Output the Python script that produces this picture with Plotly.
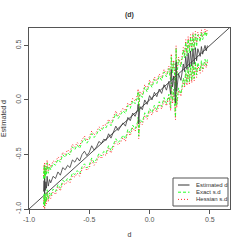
import plotly.graph_objects as go

# true d values (x)
d_true = [-0.88,-0.875,-0.87,-0.87,-0.865,-0.86,-0.855,-0.85,-0.84,-0.83,
          -0.82,-0.80,-0.78,-0.76,-0.74,-0.72,-0.70,-0.68,-0.66,-0.64,
          -0.62,-0.60,-0.58,-0.56,-0.54,-0.52,-0.50,-0.48,-0.46,-0.44,
          -0.42,-0.40,-0.38,-0.36,-0.34,-0.32,-0.30,-0.28,-0.26,-0.24,
          -0.22,-0.20,-0.18,-0.16,-0.14,-0.12,-0.10,-0.095,-0.09,-0.08,
          -0.06,-0.04,-0.02,0.00,0.02,0.04,0.06,0.08,0.10,0.12,
          0.14,0.16,0.175,0.18,0.19,0.20,0.215,0.22,0.225,0.24,
          0.26,0.28,0.29,0.30,0.31,0.32,0.33,0.34,0.35,0.36,
          0.37,0.38,0.39,0.40,0.42,0.43,0.44,0.46,0.47,0.48]

# estimated d
d_est = [-0.84,-0.74,-0.86,-0.72,-0.83,-0.75,-0.81,-0.70,-0.79,-0.73,
         -0.76,-0.70,-0.72,-0.66,-0.69,-0.62,-0.64,-0.60,-0.62,-0.55,
         -0.57,-0.53,-0.56,-0.50,-0.47,-0.51,-0.48,-0.42,-0.46,-0.43,
         -0.38,-0.40,-0.36,-0.37,-0.31,-0.35,-0.30,-0.24,-0.28,-0.25,
         -0.21,-0.24,-0.16,-0.19,-0.12,-0.15,-0.09,-0.04,-0.22,-0.06,
         -0.09,0.00,-0.04,0.04,0.00,0.07,0.03,0.10,0.06,0.14,
         0.09,0.17,0.05,0.28,0.12,0.22,-0.03,0.35,0.08,0.24,
         0.18,0.33,0.26,0.40,0.28,0.43,0.30,0.45,0.31,0.47,
         0.33,0.48,0.36,0.47,0.40,0.49,0.42,0.50,0.45,0.50]

# standard deviations
exact_sd = [0.060,0.062,0.061,0.063,0.060,0.062,0.061,0.063,0.060,0.062,
            0.061,0.060,0.062,0.059,0.061,0.060,0.058,0.060,0.059,0.061,
            0.058,0.060,0.059,0.057,0.059,0.058,0.060,0.057,0.059,0.058,
            0.056,0.058,0.057,0.059,0.056,0.058,0.057,0.059,0.056,0.058,
            0.057,0.059,0.056,0.058,0.057,0.059,0.058,0.060,0.057,0.059,
            0.058,0.060,0.058,0.061,0.059,0.060,0.062,0.059,0.061,0.060,
            0.062,0.060,0.063,0.061,0.064,0.062,0.065,0.063,0.064,0.066,
            0.063,0.065,0.064,0.066,0.063,0.065,0.067,0.064,0.066,0.065,
            0.067,0.064,0.066,0.065,0.067,0.066,0.068,0.065,0.067,0.066]

hessian_sd = [0.072,0.075,0.073,0.076,0.072,0.074,0.073,0.076,0.072,0.074,
              0.073,0.072,0.075,0.071,0.073,0.072,0.070,0.073,0.071,0.074,
              0.070,0.072,0.071,0.069,0.071,0.070,0.072,0.069,0.071,0.070,
              0.068,0.070,0.069,0.071,0.068,0.070,0.069,0.071,0.068,0.070,
              0.069,0.071,0.068,0.070,0.069,0.071,0.070,0.072,0.069,0.071,
              0.070,0.072,0.070,0.073,0.071,0.072,0.074,0.071,0.073,0.072,
              0.074,0.072,0.075,0.073,0.076,0.074,0.077,0.075,0.076,0.078,
              0.075,0.077,0.076,0.078,0.075,0.077,0.079,0.076,0.078,0.077,
              0.079,0.076,0.078,0.077,0.079,0.078,0.080,0.077,0.079,0.078]

tick_vals = [-1.0, -0.5, 0.0, 0.5]
tick_text = ["-1.0", "-0.5", "0.0", "0.5"]

legend_labels = ["Estimated d", "Exact s.d", "Hessian s.d"]

z = 1.96
exact_up = [e + z * s for e, s in zip(d_est, exact_sd)]
exact_lo = [e - z * s for e, s in zip(d_est, exact_sd)]
hess_up = [e + z * s for e, s in zip(d_est, hessian_sd)]
hess_lo = [e - z * s for e, s in zip(d_est, hessian_sd)]

FONT = "Liberation Sans, Arial, sans-serif"
AX = "#555555"
TXT = "#333333"
GREEN_DASH = "3px,2px"
RED_DOT = "1px,2px"

fig = go.Figure()
fig.add_trace(go.Scatter(x=[-1.2, 0.8], y=[-1.2, 0.8], mode="lines",
                         line=dict(color="#222222", width=0.8), showlegend=False))
for yy in (hess_up, hess_lo):
    fig.add_trace(go.Scatter(x=d_true, y=yy, mode="lines",
                             line=dict(color="#ff2a2a", width=1, dash=RED_DOT),
                             showlegend=False))
for yy in (exact_up, exact_lo):
    fig.add_trace(go.Scatter(x=d_true, y=yy, mode="lines",
                             line=dict(color="#22ff22", width=0.9, dash=GREEN_DASH),
                             showlegend=False))
fig.add_trace(go.Scatter(x=d_true, y=d_est, mode="lines",
                         line=dict(color="#383838", width=0.8), showlegend=False))

axis_common = dict(showgrid=False, zeroline=False, showline=True, mirror=True,
                   linecolor=AX, linewidth=1, ticks="outside", ticklen=4,
                   tickcolor=AX, tickwidth=1, tickvals=tick_vals, ticktext=tick_text,
                   tickfont=dict(size=7, color=AX, family=FONT), automargin=False)

fig.update_layout(
    width=245, height=245,
    margin=dict(l=29, r=15, t=28, b=36, autoexpand=False),
    paper_bgcolor="white", plot_bgcolor="white",
    font=dict(family=FONT, size=7, color=TXT),
    xaxis=dict(range=[-1.0, 0.667], **axis_common),
    yaxis=dict(range=[-1.0, 0.66], tickangle=-90, **axis_common),
    showlegend=False,
)
fig.update_xaxes(title=dict(text="d", font=dict(size=7, color=TXT), standoff=9))
fig.update_yaxes(title=dict(text="Estimated d", font=dict(size=7, color=TXT), standoff=8))

fig.add_annotation(text="<b>(d)</b>", x=0.5, y=1.0 + 13 / 181, xref="paper", yref="paper",
                   yanchor="middle", showarrow=False, font=dict(size=7, color=TXT))

# manual R-style legend (paper coordinates)
pw, ph = 201.0, 181.0
def px(xp): return (xp - 29) / pw
def py(yp): return (209 - yp) / ph
fig.add_shape(type="rect", xref="paper", yref="paper",
              x0=px(173), x1=px(228), y0=py(206), y1=py(178),
              line=dict(color=AX, width=1), fillcolor="white", layer="above")
styles = [dict(color="#333333", dash="solid"),
          dict(color="#22ff22", dash=GREEN_DASH),
          dict(color="#ff2a2a", dash=RED_DOT)]
for i, (lab, st) in enumerate(zip(legend_labels, styles)):
    yy = py(185 + i * 7.2)
    fig.add_shape(type="line", xref="paper", yref="paper",
                  x0=px(178), x1=px(189.5), y0=yy, y1=yy,
                  line=dict(color=st["color"], dash=st["dash"], width=1), layer="above")
    fig.add_annotation(text=lab, xref="paper", yref="paper", x=px(193.5), y=yy,
                       xanchor="left", yanchor="middle", showarrow=False,
                       font=dict(size=6, color=TXT))

fig.write_html("out.html", config={"displayModeBar": False},
               post_script="document.body.style.margin='0';document.body.style.padding='0';")
